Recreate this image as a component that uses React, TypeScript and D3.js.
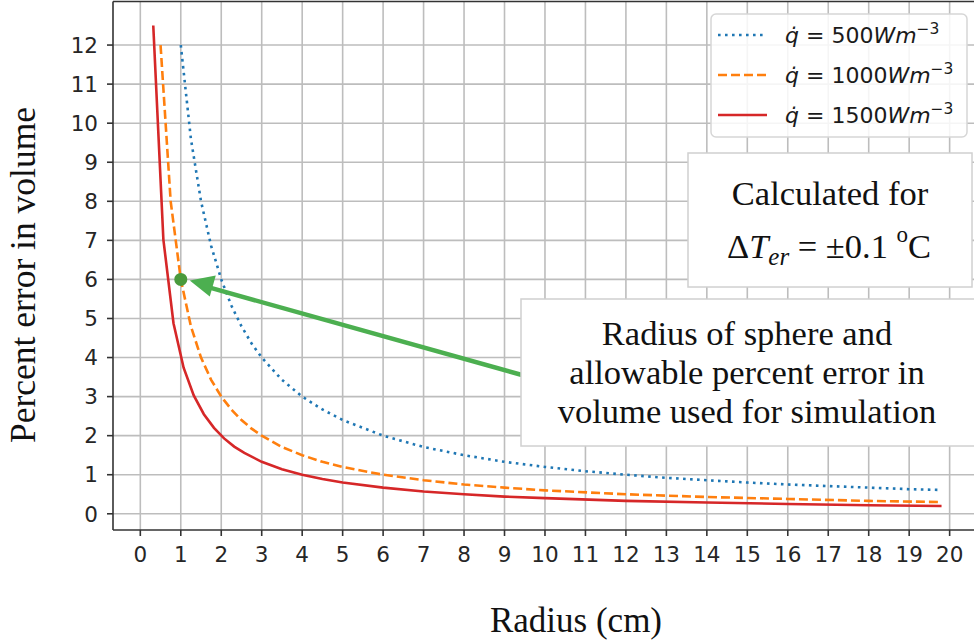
import React from "react";
import * as d3 from "d3";

const W = 974;
const H = 643;

const xTicks = d3.range(0, 21);
const yTicks = d3.range(0, 13);

const blueX = [1, 1.25, 1.5, 1.75, 2, 2.25, 2.5, 2.75, 3, 3.5, 4, 4.5, 5, 6, 7, 8, 9, 10, 11, 12, 13, 14, 15, 16, 17, 18, 19, 19.8];
const blueY = [12, 9.6, 8, 6.86, 6, 5.33, 4.8, 4.36, 4, 3.43, 3, 2.67, 2.4, 2, 1.71, 1.5, 1.33, 1.2, 1.09, 1, 0.92, 0.86, 0.8, 0.75, 0.71, 0.67, 0.63, 0.61];

const orangeX = [0.5, 0.75, 1.0, 1.25, 1.5, 1.75, 2, 2.25, 2.5, 2.75, 3, 3.5, 4, 4.5, 5, 6, 7, 8, 9, 10, 12, 14, 16, 18, 19.8];
const orangeY = [12, 8, 6, 4.8, 4, 3.43, 3, 2.67, 2.4, 2.18, 2, 1.71, 1.5, 1.33, 1.2, 1, 0.86, 0.75, 0.67, 0.6, 0.5, 0.43, 0.38, 0.33, 0.3];

const redX = [0.32, 0.57, 0.82, 1.07, 1.32, 1.57, 1.82, 2.07, 2.32, 2.57, 3, 3.5, 4, 4.5, 5, 6, 7, 8, 9, 10, 12, 14, 16, 18, 19.8];
const redY = [12.5, 7.02, 4.88, 3.74, 3.03, 2.55, 2.2, 1.93, 1.72, 1.56, 1.33, 1.14, 1.0, 0.89, 0.8, 0.67, 0.57, 0.5, 0.44, 0.4, 0.33, 0.29, 0.25, 0.22, 0.2];

const qValues = [500, 1000, 1500];
const seriesColors = ["#1f77b4", "#ff7f0e", "#d62728"];
const seriesDash = ["2.6 4.4", "9 4", ""];

const markerX = 1;
const markerY = 6;

const noteLines = ["Radius of sphere and", "allowable percent error in", "volume used for simulation"];

export default function App() {
  const x = d3.scaleLinear().domain([-0.675, 20.775]).range([113, 981]);
  const y = d3.scaleLinear().domain([-0.415, 13.115]).range([530, 1.5]);
  const line = d3
    .line<[number, number]>()
    .x((d) => x(d[0]))
    .y((d) => y(d[1]))
    .curve(d3.curveLinear);

  const series = [
    blueX.map((v, i) => [v, blueY[i]] as [number, number]),
    orangeX.map((v, i) => [v, orangeY[i]] as [number, number]),
    redX.map((v, i) => [v, redY[i]] as [number, number]),
  ];

  const tickFont = "'DejaVu Sans', sans-serif";
  const serif = "'Liberation Serif', 'Times New Roman', serif";
  const green = "#4caf50";
  const serifSize = 34.5;

  const [x0, x1] = x.range();
  const [y0, y1] = y.range();

  return (
    <svg width={W} height={H} style={{ position: "absolute", left: 0, top: 0, background: "#fff" }}>
      <defs>
        <clipPath id="plot">
          <rect x={x0} y={y1} width={x1 - x0} height={y0 - y1} />
        </clipPath>
      </defs>
      <rect x={0} y={0} width={W} height={H} fill="#fff" />
      {/* grid */}
      <g stroke="#bdbdbd" strokeWidth={1.6}>
        {xTicks.map((t) => (
          <line key={"gx" + t} x1={x(t)} x2={x(t)} y1={y1} y2={y0} />
        ))}
        {yTicks.map((t) => (
          <line key={"gy" + t} x1={x0} x2={x1} y1={y(t)} y2={y(t)} />
        ))}
      </g>
      {/* series */}
      <g clipPath="url(#plot)" fill="none">
        {series.map((s, i) => (
          <path
            key={"s" + i}
            d={line(s) || ""}
            stroke={seriesColors[i]}
            strokeWidth={2.6}
            strokeDasharray={seriesDash[i] || undefined}
          />
        ))}
      </g>
      {/* spines */}
      <g stroke="#333" strokeWidth={1.6} fill="none">
        <line x1={x0} x2={x0} y1={y1} y2={y0} />
        <line x1={x0} x2={x1} y1={y0} y2={y0} />
        <line x1={x0} x2={x1} y1={y1} y2={y1} />
        <line x1={x1} x2={x1} y1={y1} y2={y0} />
      </g>
      {/* ticks */}
      <g stroke="#333" strokeWidth={1.6}>
        {xTicks.map((t) => (
          <line key={"tx" + t} x1={x(t)} x2={x(t)} y1={y0} y2={y0 + 6} />
        ))}
        {yTicks.map((t) => (
          <line key={"ty" + t} x1={x0} x2={x0 - 6} y1={y(t)} y2={y(t)} />
        ))}
      </g>
      <g fontFamily={tickFont} fontSize={21.5} fill="#262626">
        {xTicks.map((t) => (
          <text key={"lx" + t} x={x(t)} y={y0 + 32} textAnchor="middle">
            {t}
          </text>
        ))}
        {yTicks.map((t) => (
          <text key={"ly" + t} x={x0 - 15} y={y(t)} dy="0.36em" textAnchor="end">
            {t}
          </text>
        ))}
      </g>
      {/* axis labels */}
      <text x={576} y={632} fontFamily={serif} fontSize={serifSize + 0.5} textAnchor="middle" fill="#111">
        Radius (cm)
      </text>
      <text
        transform="translate(35,275) rotate(-90)"
        fontFamily={serif}
        fontSize={serifSize + 1}
        textAnchor="middle"
        fill="#111"
      >
        Percent error in volume
      </text>
      {/* legend */}
      <g>
        <rect x={711} y={14} width={256} height={123} rx={5} fill="#fff" fillOpacity={0.85} stroke="#d6d6d6" strokeWidth={1.5} />
        {qValues.map((q, i) => {
          const cy = 35 + i * 40;
          return (
            <g key={"lg" + i}>
              <line
                x1={718}
                x2={767}
                y1={cy}
                y2={cy}
                stroke={seriesColors[i]}
                strokeWidth={2.6}
                strokeDasharray={seriesDash[i] || undefined}
              />
              <text x={785} y={cy + 8} fontFamily={tickFont} fontSize={22} fill="#1a1a1a">
                <tspan fontStyle="italic">{"q\u0307"}</tspan>
                <tspan>{" = " + q}</tspan>
                <tspan fontStyle="italic">Wm</tspan>
                <tspan fontSize={15.5} dy={-9}>{"\u22123"}</tspan>
              </text>
            </g>
          );
        })}
      </g>
      {/* calculated-for box */}
      <g>
        <rect x={688} y={153} width={284} height={134} fill="#fff" stroke="#d0d0d0" strokeWidth={1.5} />
        <text x={830} y={205} fontFamily={serif} fontSize={serifSize} textAnchor="middle" fill="#111">
          Calculated for
        </text>
        <text x={829} y={258} fontFamily={serif} fontSize={serifSize} textAnchor="middle" fill="#111">
          <tspan>{"\u0394"}</tspan>
          <tspan fontStyle="italic">T</tspan>
          <tspan fontStyle="italic" fontSize={25} dy={7}>er</tspan>
          <tspan dy={-7}>{" = \u00b10.1 "}</tspan>
          <tspan fontSize={23} dy={-16}>o</tspan>
          <tspan dy={16}>C</tspan>
        </text>
      </g>
      {/* arrow */}
      <g>
        <line
          x1={522}
          y1={375}
          x2={x(markerX) + 30}
          y2={y(markerY) + 8.5}
          stroke={green}
          strokeWidth={4.5}
        />
        <path
          d={`M${x(markerX) + 9},${y(markerY) + 1} L${x(markerX) + 35},${y(markerY) - 4} L${x(markerX) + 29},${y(markerY) + 17} Z`}
          fill={green}
        />
        <circle cx={x(markerX)} cy={y(markerY)} r={6.5} fill="#4a9a3c" />
      </g>
      {/* note box */}
      <g>
        <rect x={521} y={299} width={460} height={147} fill="#fff" stroke="#d0d0d0" strokeWidth={1.5} />
        {noteLines.map((s, i) => (
          <text key={"n" + i} x={747} y={345 + i * 39} fontFamily={serif} fontSize={serifSize} textAnchor="middle" fill="#111">
            {s}
          </text>
        ))}
      </g>
    </svg>
  );
}
